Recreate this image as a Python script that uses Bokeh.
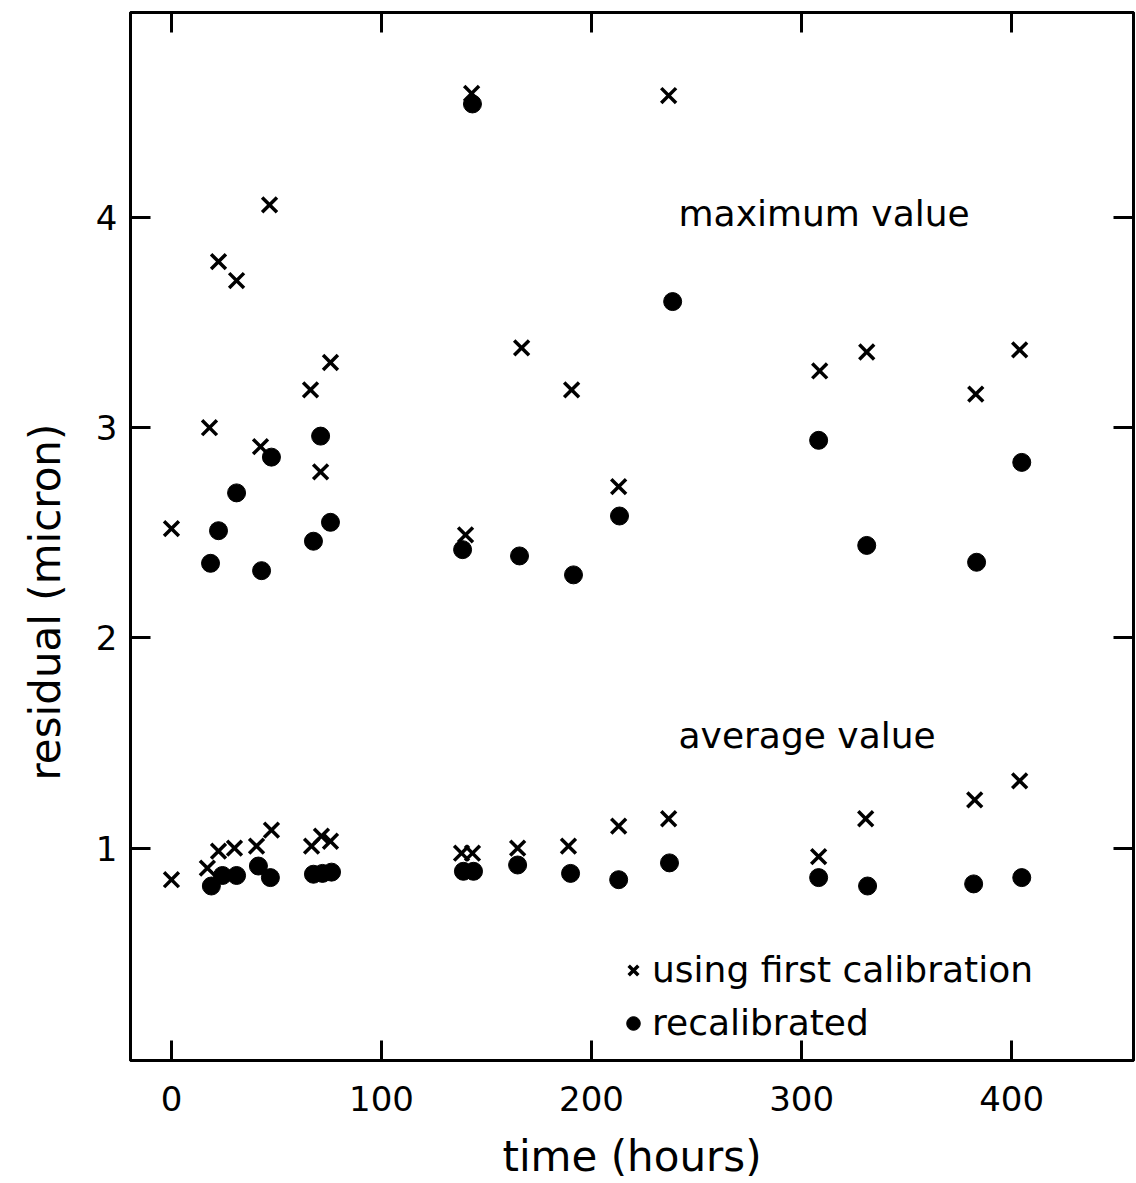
import math
from bokeh.plotting import figure
from bokeh.models import Range1d, LinearAxis, FixedTicker, Label, Legend, LegendItem, Title
from bokeh.embed import file_html
from bokeh.resources import INLINE

FONT = "DejaVu Sans"

# ---- data (hours, residual in micron) ----
max_first_t = [0, 18.1, 22.4, 31.0, 42.4, 46.7, 66.2, 71.0, 75.7, 140.0, 142.9,
               166.7, 190.5, 212.9, 236.7, 308.6, 331.0, 382.9, 403.8]
max_first_r = [2.52, 3.00, 3.79, 3.70, 2.91, 4.06, 3.18, 2.79, 3.31, 2.49, 4.59,
               3.38, 3.18, 2.72, 4.58, 3.27, 3.36, 3.16, 3.37]

max_recal_t = [18.6, 22.4, 31.0, 42.9, 47.6, 67.6, 71.0, 75.7, 138.6, 143.3,
               165.7, 191.4, 213.3, 238.6, 308.1, 331.0, 383.3, 404.8]
max_recal_r = [2.355, 2.51, 2.69, 2.32, 2.86, 2.46, 2.96, 2.55, 2.42, 4.54,
               2.39, 2.30, 2.58, 3.60, 2.94, 2.44, 2.36, 2.835]

avg_first_t = [0, 17.1, 22.4, 30.0, 40.5, 47.6, 66.7, 71.4, 75.7, 138.1, 143.3,
               164.8, 189.0, 212.9, 236.7, 308.1, 330.5, 382.4, 403.8]
avg_first_r = [0.85, 0.905, 0.986, 1.0, 1.01, 1.086, 1.01, 1.057, 1.033, 0.976, 0.976,
               1.0, 1.01, 1.105, 1.14, 0.96, 1.14, 1.23, 1.32]

avg_recal_t = [19.0, 24.3, 31.0, 41.4, 47.1, 67.6, 71.9, 76.2, 139.0, 143.8,
               164.8, 190.0, 212.9, 237.1, 308.1, 331.4, 381.9, 404.8]
avg_recal_r = [0.82, 0.87, 0.87, 0.915, 0.86, 0.876, 0.88, 0.886, 0.89, 0.89,
               0.92, 0.88, 0.85, 0.93, 0.86, 0.82, 0.83, 0.86]

x_ticks = [0, 100, 200, 300, 400]
y_ticks = [1, 2, 3, 4]

p = figure(width=1136, height=1183, output_backend="svg", toolbar_location=None,
           x_range=Range1d(-19.5, 458.0), y_range=Range1d(-0.01, 4.975),
           min_border_left=130, min_border_right=3, min_border_top=12,
           min_border_bottom=123)
p.grid.visible = False
p.outline_line_color = "black"
p.outline_line_width = 3
p.background_fill_color = "white"
p.border_fill_color = "white"


def style_axis(ax, ticks, labels=True):
    ax.ticker = FixedTicker(ticks=ticks)
    ax.major_tick_in = 20
    ax.major_tick_out = 0
    ax.minor_tick_line_color = None
    ax.axis_line_width = 3
    ax.axis_line_color = "black"
    ax.major_tick_line_width = 3
    ax.major_tick_line_color = "black"
    if labels:
        ax.major_label_text_font = FONT
        ax.major_label_text_font_size = "34px"
        ax.major_label_text_color = "black"
    else:
        ax.major_label_overrides = {t: "" for t in ticks}
        ax.major_label_standoff = 0


xax = p.xaxis[0]
style_axis(xax, x_ticks)
xax.major_label_standoff = 25
xax.axis_label = "time (hours)"
xax.axis_label_text_font = FONT
xax.axis_label_text_font_size = "42px"
xax.axis_label_text_font_style = "normal"
xax.axis_label_text_color = "black"
xax.axis_label_standoff = 18

yax = p.yaxis[0]
style_axis(yax, y_ticks)
yax.major_label_standoff = 13

top = LinearAxis()
style_axis(top, x_ticks, labels=False)
p.add_layout(top, "above")
right = LinearAxis()
style_axis(right, y_ticks, labels=False)
p.add_layout(right, "right")

# y-axis title (side title so it can sit lower, like the original)
ytitle = Title(text="residual (micron)", align="left", offset=280,
               vertical_align="top",
               text_font=FONT, text_font_size="42px", text_font_style="normal",
               text_color="black")
if "standoff" in Title.properties():
    ytitle.standoff = 41
p.add_layout(ytitle, "left")

# ---- marks ----
r_max_x = p.scatter(max_first_t, max_first_r, marker="x", size=21,
                    line_color="black", line_width=3.5)
r_max_o = p.scatter(max_recal_t, max_recal_r, marker="circle", size=18,
                    fill_color="black", line_color="black")
p.scatter(avg_first_t, avg_first_r, marker="x", size=21,
          line_color="black", line_width=3.5)
p.scatter(avg_recal_t, avg_recal_r, marker="circle", size=18,
          fill_color="black", line_color="black")

# ---- texts ----
p.add_layout(Label(x=241.4, y=4.02, text="maximum value", text_font=FONT,
                   text_font_size="36px", text_baseline="middle", text_color="black"))
p.add_layout(Label(x=241.4, y=1.536, text="average value", text_font=FONT,
                   text_font_size="36px", text_baseline="middle", text_color="black"))

legend = Legend(items=[LegendItem(label="using first calibration", renderers=[r_max_x]),
                       LegendItem(label="recalibrated", renderers=[r_max_o])],
                location=(486, 17), orientation="vertical",
                border_line_color=None, background_fill_alpha=0,
                label_text_font=FONT, label_text_font_size="36px",
                label_text_color="black",
                glyph_width=34, glyph_height=34, label_standoff=2,
                spacing=12, padding=0, margin=0)
p.add_layout(legend)

open("out.html", "w").write(file_html(p, INLINE))
